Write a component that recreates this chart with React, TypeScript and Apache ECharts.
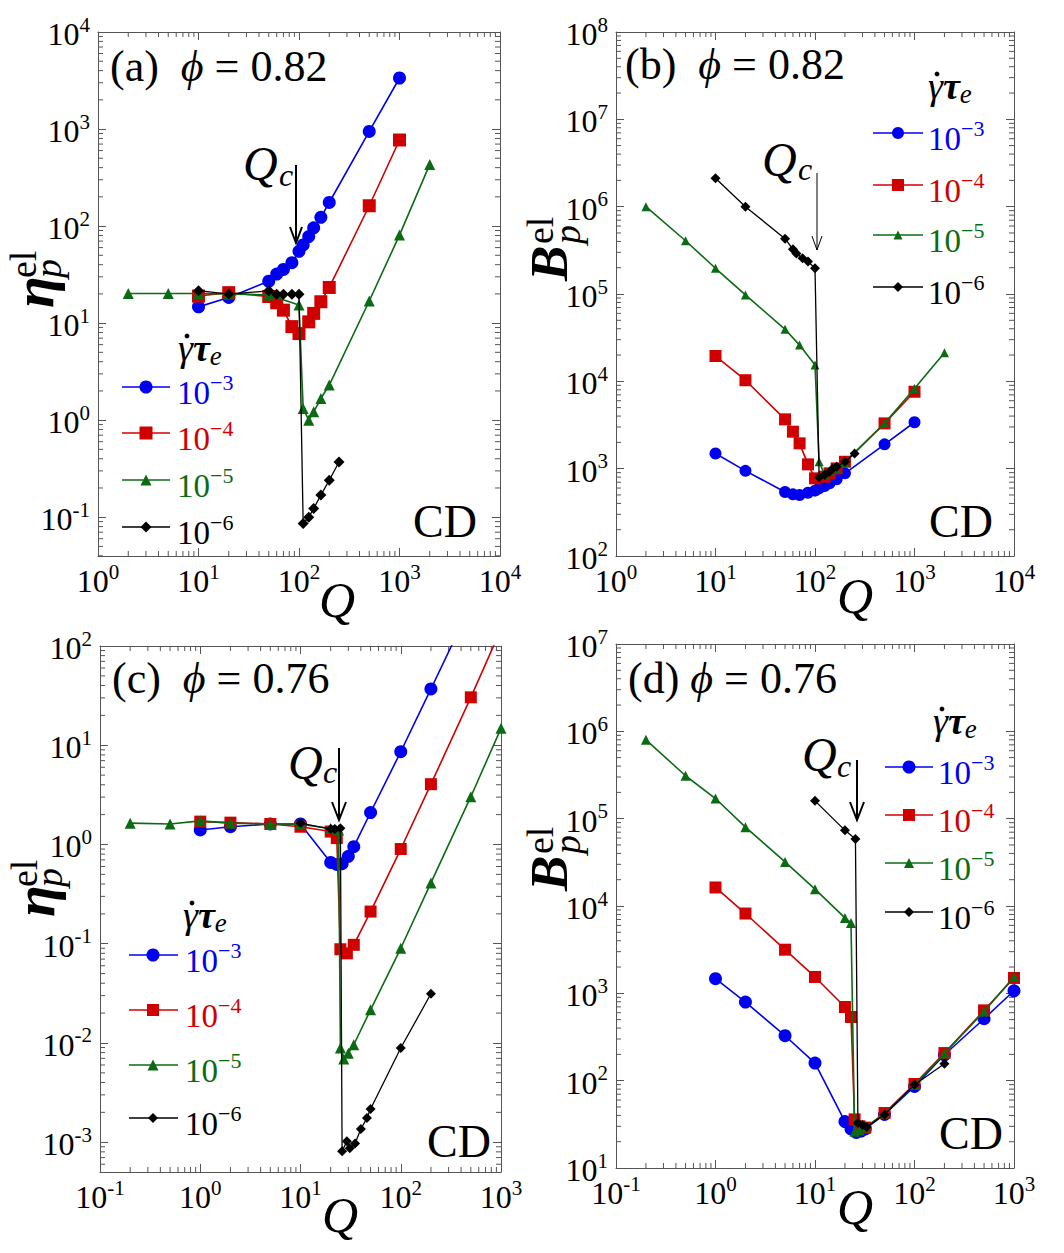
import React, { useEffect, useRef } from 'react';
import * as echarts from 'echarts';

const FONT = 'Liberation Serif, DejaVu Serif, serif';
const AXIS_COLOR = '#555555';
const BLUE = '#0000f0';
const RED = '#d00000';
const GREEN = '#0b6b12';
const BLACK = '#000000';

// ---------------- data ----------------
// (a) phi = 0.82, eta_p^el vs Q
const A_BLUE_Q = [10, 20, 50, 60, 70, 85, 100, 110, 125, 140, 165, 200, 500, 1000];
const A_BLUE_V = [14.7, 18.4, 27, 32, 35.7, 42, 55, 64, 78, 96, 123, 175, 946, 3357];
const A_RED_Q = [10, 20, 50, 60, 70, 85, 100, 125, 140, 165, 200, 500, 1000];
const A_RED_V = [19, 20.6, 18.8, 16.2, 13.6, 9.2, 7.8, 10.3, 12.6, 16.6, 23.3, 162, 771];
const A_GREEN_Q = [2, 5, 10, 20, 50, 100, 110, 125, 140, 165, 200, 500, 1000, 2000];
const A_GREEN_V = [20.2, 20.2, 20.2, 20, 19.5, 15.4, 1.32, 1.0, 1.22, 1.67, 2.3, 16.9, 80.7, 432];
const A_BLACK_Q = [10, 20, 50, 60, 70, 85, 100, 110, 125, 140, 165, 200, 250];
const A_BLACK_V = [21.6, 19.9, 21.5, 19.8, 19.8, 19.8, 19.8, 0.086, 0.1, 0.123, 0.169, 0.24, 0.37];

// (b) phi = 0.82, B_p^el vs Q
const B_BLUE_Q = [10, 20, 50, 60, 70, 85, 100, 110, 125, 140, 165, 200, 500, 1000];
const B_BLUE_V = [1490, 944, 540, 508, 499, 530, 560, 596, 633, 680, 755, 884, 1900, 3400];
const B_RED_Q = [10, 20, 50, 60, 70, 85, 100, 125, 140, 165, 200, 500, 1000];
const B_RED_V = [19500, 10300, 3670, 2650, 1950, 1120, 775, 809, 884, 1006, 1200, 3300, 7600];
const B_GREEN_Q = [2, 5, 10, 20, 50, 70, 100, 110, 125, 140, 165, 200, 500, 1000, 2000];
const B_GREEN_V = [1e6, 407000, 197000, 97600, 39400, 26000, 15400, 1200, 850, 920, 1010, 1180, 3300, 8300, 21300];
const B_BLACK_Q = [10, 20, 50, 60, 65, 75, 85, 100, 110, 125, 140, 150, 165, 200, 250];
const B_BLACK_V = [2110000, 1000000, 430000, 325000, 290000, 256000, 235000, 197000, 800, 845, 922, 1000, 1050, 1200, 1490];

// (c) phi = 0.76, eta_p^el vs Q
const C_BLUE_Q = [1, 2, 5, 10, 20, 23, 26, 30, 34, 50, 100, 200, 500, 1000];
const C_BLUE_V = [1.4, 1.51, 1.61, 1.61, 0.66, 0.63, 0.64, 0.76, 0.95, 2.1, 8.6, 36.9, 257, 1100];
const C_RED_Q = [1, 2, 5, 10, 20, 23, 25, 29, 34, 50, 100, 200, 500, 1000];
const C_RED_V = [1.7, 1.66, 1.61, 1.51, 1.35, 1.16, 0.088, 0.08, 0.0975, 0.211, 0.9, 4.05, 30.4, 148];
const C_GREEN_Q = [0.2, 0.5, 1, 2, 5, 10, 20, 24, 25, 27, 30, 34, 50, 100, 200, 500, 1000];
const C_GREEN_V = [1.64, 1.61, 1.73, 1.64, 1.61, 1.6, 1.45, 1.4, 0.0089, 0.0069, 0.0079, 0.0096, 0.0216, 0.09, 0.41, 3.03, 14.8];
const C_BLACK_Q = [10, 20, 22, 25, 26, 29, 31, 35, 40, 46, 50, 100, 200];
const C_BLACK_V = [1.64, 1.43, 1.43, 1.46, 0.00081, 0.00102, 0.00087, 0.00097, 0.00136, 0.00175, 0.00216, 0.0089, 0.0313];

// (d) phi = 0.76, B_p^el vs Q
const D_BLUE_Q = [1, 2, 5, 10, 20, 23, 26, 29, 32, 50, 100, 200, 500, 1000];
const D_BLUE_V = [1470, 794, 327, 159, 34, 28, 25.5, 26.5, 28, 41, 86, 198, 512, 1070];
const D_RED_Q = [1, 2, 5, 10, 20, 23, 25, 28, 32, 50, 100, 200, 500, 1000];
const D_RED_V = [16300, 8200, 3160, 1540, 697, 536, 36, 30, 29, 42.6, 91.6, 207, 638, 1500];
const D_GREEN_Q = [0.2, 0.5, 1, 2, 5, 10, 20, 23, 25, 28, 32, 50, 100, 200, 500, 1000];
const D_GREEN_V = [800000, 310000, 170000, 80000, 32000, 15600, 7300, 6400, 26, 27, 29, 42, 90, 205, 620, 1550];
const D_BLACK_Q = [10, 20, 25.5, 27, 30, 33, 50, 100, 200];
const D_BLACK_V = [160000, 73500, 58500, 32.7, 31, 29.4, 41, 90, 156];

// legend labels (exponents of the shear rate)
const LEGEND_EXP = ['−3', '−4', '−5', '−6'];
const MINOR_MULTS = [2, 3, 4, 5, 6, 7, 8, 9];

// ---------------- layout ----------------
type Kind = 'blue' | 'red' | 'green' | 'black';
const KIND: Record<Kind, { color: string; symbol: string; width: number }> = {
  blue: { color: BLUE, symbol: 'circle', width: 1.6 },
  red: { color: RED, symbol: 'rect', width: 1.6 },
  green: { color: GREEN, symbol: 'triangle', width: 1.6 },
  black: { color: BLACK, symbol: 'diamond', width: 1.3 },
};
const KINDS: Kind[] = ['blue', 'red', 'green', 'black'];

const PANELS = [
  {
    grid: { left: 98, top: 32, width: 402, height: 524 },
    x: [1, 1e4], y: [Math.pow(10, -1.4), 1e4],
    data: { blue: [A_BLUE_Q, A_BLUE_V], red: [A_RED_Q, A_RED_V], green: [A_GREEN_Q, A_GREEN_V], black: [A_BLACK_Q, A_BLACK_V] },
    sizes: { blue: 13, red: 13, green: 11, black: 11 },
  },
  {
    grid: { left: 616, top: 32, width: 398, height: 524 },
    x: [1, 1e4], y: [1e2, 1e8],
    data: { blue: [B_BLUE_Q, B_BLUE_V], red: [B_RED_Q, B_RED_V], green: [B_GREEN_Q, B_GREEN_V], black: [B_BLACK_Q, B_BLACK_V] },
    sizes: { blue: 12, red: 12, green: 9, black: 10 },
  },
  {
    grid: { left: 100, top: 646, width: 401, height: 526 },
    x: [0.1, 1e3], y: [Math.pow(10, -3.3), 1e2],
    data: { blue: [C_BLUE_Q, C_BLUE_V], red: [C_RED_Q, C_RED_V], green: [C_GREEN_Q, C_GREEN_V], black: [C_BLACK_Q, C_BLACK_V] },
    sizes: { blue: 13, red: 12, green: 11, black: 10 },
  },
  {
    grid: { left: 616, top: 644, width: 398, height: 524 },
    x: [0.1, 1e3], y: [10, 1e7],
    data: { blue: [D_BLUE_Q, D_BLUE_V], red: [D_RED_Q, D_RED_V], green: [D_GREEN_Q, D_GREEN_V], black: [D_BLACK_Q, D_BLACK_V] },
    sizes: { blue: 13, red: 12, green: 10, black: 10 },
  },
];

const TITLES = [
  { label: '(a)  ', phi: '0.82', x: 110, y: 66 },
  { label: '(b)  ', phi: '0.82', x: 625, y: 64 },
  { label: '(c)  ', phi: '0.76', x: 112, y: 678 },
  { label: '(d) ', phi: '0.76', x: 628, y: 678 },
];
const LEGENDS = [
  { x0: 122, x1: 170, xm: 146, xt: 177, rows: [387, 433, 480, 527], tx: 178, ty: 349 },
  { x0: 873, x1: 923, xm: 898, xt: 928, rows: [133, 185, 235, 287], tx: 928, ty: 87 },
  { x0: 129, x1: 178, xm: 153, xt: 185, rows: [955, 1010, 1065, 1118], tx: 183, ty: 916 },
  { x0: 885, x1: 933, xm: 909, xt: 938, rows: [767, 815, 863, 912], tx: 933, ty: 722 },
];
const QC = [
  { qx: 243, qy: 163, cx: 279, cy: 175, ax: 296, ay0: 165, ay1: 243, head: 16, hw: 6, lw: 2 },
  { qx: 762, qy: 159, cx: 798, cy: 169, ax: 817, ay0: 173, ay1: 250, head: 14, hw: 5, lw: 1 },
  { qx: 288, qy: 762, cx: 323, cy: 772, ax: 339, ay0: 748, ay1: 820, head: 18, hw: 7, lw: 2 },
  { qx: 802, qy: 754, cx: 837, cy: 766, ax: 857, ay0: 760, ay1: 820, head: 18, hw: 7, lw: 2 },
];
const CD_POS = [[445, 521], [961, 521], [459, 1141], [971, 1133]];
const QLABEL_POS = [[337, 600], [855, 596], [340, 1215], [855, 1207]];
const YTITLE = [
  { sym: 'η', x: 53, y: 308, big: 58, bold: 'bold', sub: 30, dy: -20, pdy: -5, edy: -30 },
  { sym: 'B', x: 567, y: 281, big: 53, bold: 'bold', sub: 37, dy: -18, pdy: 0, edy: -27 },
  { sym: 'η', x: 54, y: 917, big: 58, bold: 'bold', sub: 30, dy: -20, pdy: -5, edy: -30 },
  { sym: 'B', x: 567, y: 891, big: 53, bold: 'bold', sub: 37, dy: -18, pdy: 0, edy: -27 },
];

function supLabel(v: number) {
  const e = Math.log10(v);
  const r = Math.round(e);
  if (Math.abs(e - r) > 1e-6) return '';
  return `{b|10}{s|${r}}`;
}

const tickRich = {
  b: { fontFamily: FONT, fontSize: 32, lineHeight: 36, verticalAlign: 'bottom', color: '#000' },
  s: { fontFamily: FONT, fontSize: 21, lineHeight: 21, verticalAlign: 'top', color: '#000' },
};

function minorValues(min: number, max: number) {
  const out: number[] = [];
  const e0 = Math.floor(Math.log10(min) + 1e-9);
  const e1 = Math.ceil(Math.log10(max) - 1e-9);
  for (let e = e0; e < e1; e++) {
    for (const m of MINOR_MULTS) {
      const v = m * Math.pow(10, e);
      if (v > min * 1.0001 && v < max * 0.9999) out.push(v);
    }
  }
  return out;
}

function markerGraphic(kind: Kind, cx: number, cy: number, s: number) {
  const color = KIND[kind].color;
  const h = s / 2;
  if (kind === 'blue') return { type: 'circle', shape: { cx, cy, r: h }, style: { fill: color } };
  if (kind === 'red') return { type: 'rect', shape: { x: cx - h, y: cy - h, width: s, height: s }, style: { fill: color } };
  if (kind === 'green')
    return { type: 'polygon', shape: { points: [[cx, cy - h], [cx + h, cy + h], [cx - h, cy + h]] }, style: { fill: color } };
  return { type: 'polygon', shape: { points: [[cx, cy - h], [cx + h, cy], [cx, cy + h], [cx - h, cy]] }, style: { fill: color } };
}

function buildOption() {
  const xAxis: any[] = [];
  const yAxis: any[] = [];
  const series: any[] = [];
  const graphic: any[] = [];

  const axisBase = (min: number, max: number, gi: number) => ({
    type: 'log',
    logBase: 10,
    gridIndex: gi,
    min,
    max,
    axisLine: { show: true, onZero: false, lineStyle: { color: AXIS_COLOR, width: 1 } },
    axisTick: { show: true, inside: true, length: 8, lineStyle: { color: AXIS_COLOR, width: 1 } },
    splitLine: { show: false },
    minorTick: { show: false },
    minorSplitLine: { show: false },
  });

  PANELS.forEach((p, i) => {
    xAxis[i] = {
      ...axisBase(p.x[0], p.x[1], i),
      position: 'bottom',
      axisLabel: { show: true, margin: 5, interval: 0, formatter: supLabel, rich: tickRich, fontFamily: FONT },
    };
    xAxis[i + 4] = { ...axisBase(p.x[0], p.x[1], i), position: 'top', axisLabel: { show: false } };
    yAxis[i] = {
      ...axisBase(p.y[0], p.y[1], i),
      position: 'left',
      axisLabel: { show: true, margin: 8, interval: 0, formatter: supLabel, rich: tickRich, fontFamily: FONT },
    };
    yAxis[i + 4] = { ...axisBase(p.y[0], p.y[1], i), position: 'right', axisLabel: { show: false } };

    // minor ticks on all four sides
    const minorData: number[][] = [];
    minorValues(p.x[0], p.x[1]).forEach((v) => minorData.push([v, p.y[0], 0]));
    minorValues(p.y[0], p.y[1]).forEach((v) => minorData.push([p.x[0], v, 1]));
    const yMin = p.y[0], yMax = p.y[1], xMin = p.x[0], xMax = p.x[1];
    series.push({
      type: 'custom',
      name: 'minor-ticks-' + i,
      xAxisIndex: i,
      yAxisIndex: i,
      silent: true,
      z: 1,
      data: minorData,
      renderItem: (_params: any, api: any) => {
        const kind = api.value(2);
        const L = 5;
        const st = { stroke: AXIS_COLOR, lineWidth: 1 };
        if (kind === 0) {
          const v = api.value(0);
          const b = api.coord([v, yMin]);
          const t = api.coord([v, yMax]);
          return {
            type: 'group',
            children: [
              { type: 'line', shape: { x1: b[0], y1: b[1], x2: b[0], y2: b[1] - L }, style: st },
              { type: 'line', shape: { x1: t[0], y1: t[1], x2: t[0], y2: t[1] + L }, style: st },
            ],
          };
        }
        const v = api.value(1);
        const l = api.coord([xMin, v]);
        const r = api.coord([xMax, v]);
        return {
          type: 'group',
          children: [
            { type: 'line', shape: { x1: l[0], y1: l[1], x2: l[0] + L, y2: l[1] }, style: st },
            { type: 'line', shape: { x1: r[0], y1: r[1], x2: r[0] - L, y2: r[1] }, style: st },
          ],
        };
      },
    });

    KINDS.forEach((k, ki) => {
      const [qs, vs] = (p.data as any)[k] as number[][];
      series.push({
        type: 'line',
        name: `γ̇τe = 10${LEGEND_EXP[ki]}`,
        xAxisIndex: i,
        yAxisIndex: i,
        data: qs.map((q, j) => [q, vs[j]]),
        symbol: KIND[k].symbol,
        symbolSize: (p.sizes as any)[k],
        showSymbol: true,
        showAllSymbol: true,
        clip: true,
        silent: true,
        z: 2 + ki,
        itemStyle: { color: KIND[k].color },
        lineStyle: { color: KIND[k].color, width: KIND[k].width },
        emphasis: { disabled: true },
      });
    });

    // panel title
    const t = TITLES[i];
    graphic.push({
      type: 'text',
      x: t.x,
      y: t.y,
      style: {
        text: `{n|${t.label}}{i|ϕ}{n| = ${t.phi}}`,
        textAlign: 'left',
        textVerticalAlign: 'middle',
        fill: '#000',
        fontFamily: FONT,
        rich: {
          n: { fontFamily: FONT, fontSize: 44, fill: '#000' },
          i: { fontFamily: FONT, fontSize: 44, fontStyle: 'italic', fill: '#000' },
        },
      },
    });

    // CD
    graphic.push({
      type: 'text',
      x: CD_POS[i][0],
      y: CD_POS[i][1],
      style: { text: 'CD', fontFamily: FONT, fontSize: 46, fill: '#000', textAlign: 'center', textVerticalAlign: 'middle' },
    });

    // x axis title Q
    graphic.push({
      type: 'text',
      x: QLABEL_POS[i][0],
      y: QLABEL_POS[i][1],
      style: { text: 'Q', fontFamily: FONT, fontSize: 50, fontStyle: 'italic', fill: '#000', textAlign: 'center', textVerticalAlign: 'middle' },
    });

    // y axis title (rotated)
    const yt = YTITLE[i];
    graphic.push({
      type: 'group',
      x: yt.x,
      y: yt.y,
      rotation: Math.PI / 2,
      children: [
        {
          type: 'text', x: 0, y: yt.dy,
          style: { text: yt.sym, fontFamily: FONT, fontSize: yt.big, fontStyle: 'italic', fontWeight: yt.bold, fill: '#000', textAlign: 'left', textVerticalAlign: 'middle' },
        },
        {
          type: 'text', x: yt.sub, y: yt.pdy,
          style: { text: 'p', fontFamily: FONT, fontSize: 38, fontStyle: 'italic', fill: '#000', textAlign: 'left', textVerticalAlign: 'middle' },
        },
        {
          type: 'text', x: yt.sub, y: yt.edy,
          style: { text: 'el', fontFamily: FONT, fontSize: 38, fill: '#000', textAlign: 'left', textVerticalAlign: 'middle' },
        },
      ],
    });

    // Q_c annotation with arrow
    const qc = QC[i];
    graphic.push({
      type: 'text', x: qc.qx, y: qc.qy,
      style: { text: 'Q', fontFamily: FONT, fontSize: 48, fontStyle: 'italic', fill: '#000', textAlign: 'left', textVerticalAlign: 'middle' },
    });
    graphic.push({
      type: 'text', x: qc.cx, y: qc.cy,
      style: { text: 'c', fontFamily: FONT, fontSize: 32, fontStyle: 'italic', fill: '#000', textAlign: 'left', textVerticalAlign: 'middle' },
    });
    graphic.push({
      type: 'line',
      shape: { x1: qc.ax, y1: qc.ay0, x2: qc.ax, y2: qc.ay1 },
      style: { stroke: '#000', lineWidth: qc.lw },
    });
    graphic.push({
      type: 'polyline',
      shape: { points: [[qc.ax - qc.hw, qc.ay1 - qc.head], [qc.ax, qc.ay1], [qc.ax + qc.hw, qc.ay1 - qc.head]] },
      style: { stroke: '#000', lineWidth: qc.lw, fill: null },
    });

    // legend
    const lg = LEGENDS[i];
    graphic.push({
      type: 'text', x: lg.tx, y: lg.ty,
      style: {
        text: '{g|γ}{t|τ}{s|e}',
        textAlign: 'left',
        textVerticalAlign: 'middle',
        fill: '#000',
        fontFamily: FONT,
        rich: {
          g: { fontFamily: FONT, fontSize: 38, fontStyle: 'italic', lineHeight: 40, verticalAlign: 'top', fill: '#000' },
          t: { fontFamily: FONT, fontSize: 38, fontStyle: 'italic', fontWeight: 'bold', lineHeight: 40, verticalAlign: 'top', fill: '#000' },
          s: { fontFamily: FONT, fontSize: 27, fontStyle: 'italic', lineHeight: 24, verticalAlign: 'bottom', fill: '#000' },
        },
      },
    });
    // the dot over gamma
    graphic.push({ type: 'circle', shape: { cx: lg.tx + 9, cy: lg.ty - 13, r: 2.4 }, style: { fill: '#000' } });

    KINDS.forEach((k, ki) => {
      const y = lg.rows[ki];
      const col = KIND[k].color;
      graphic.push({ type: 'line', shape: { x1: lg.x0, y1: y, x2: lg.x1, y2: y }, style: { stroke: col, lineWidth: KIND[k].width } });
      graphic.push(markerGraphic(k, lg.xm, y, (p.sizes as any)[k]));
      graphic.push({
        type: 'text', x: lg.xt, y: y + 3,
        style: {
          text: `{b|10}{s|${LEGEND_EXP[ki]}}`,
          textAlign: 'left',
          textVerticalAlign: 'middle',
          fill: col,
          fontFamily: FONT,
          rich: {
            b: { fontFamily: FONT, fontSize: 33, lineHeight: 38, verticalAlign: 'bottom', fill: col },
            s: { fontFamily: FONT, fontSize: 22, lineHeight: 22, verticalAlign: 'top', fill: col },
          },
        },
      });
    });
  });

  return {
    animation: false,
    backgroundColor: '#ffffff',
    textStyle: { fontFamily: FONT, color: '#000' },
    grid: PANELS.map((p) => ({ ...p.grid, show: false, containLabel: false, outerBoundsMode: 'none' })),
    xAxis,
    yAxis,
    series,
    graphic: { elements: graphic },
    tooltip: { show: false },
  };
}

export default function App() {
  const ref = useRef<HTMLDivElement>(null);
  useEffect(() => {
    document.body.style.margin = '0';
    if (!ref.current) return;
    const chart = echarts.init(ref.current, undefined, { renderer: 'svg' });
    chart.setOption(buildOption() as any);
    return () => chart.dispose();
  }, []);
  return <div ref={ref} style={{ width: 1064, height: 1253, background: '#fff' }} />;
}
